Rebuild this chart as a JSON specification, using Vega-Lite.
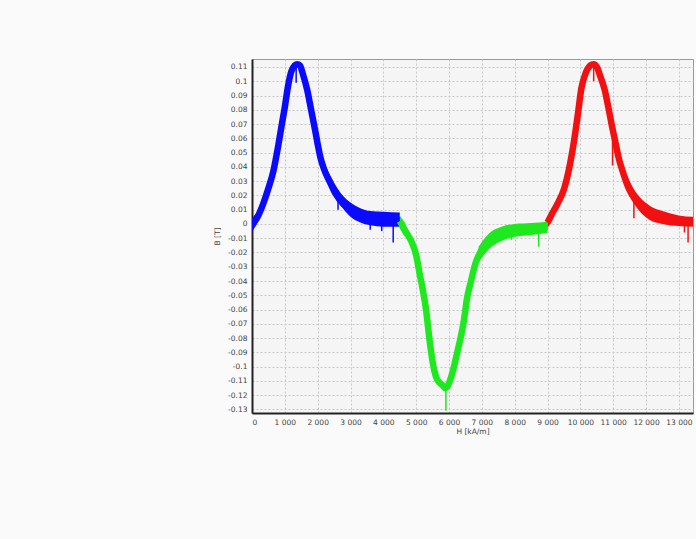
{
  "$schema": "https://vega.github.io/schema/vega-lite/v6.json",
  "width": 441,
  "height": 354,
  "autosize": {"type": "none"},
  "padding": {"left": 252, "top": 59, "right": 3, "bottom": 126},
  "background": "#fafafa",
  "config": {
    "locale": {"number": {"decimal": ".", "thousands": " ", "grouping": [3], "currency": ["", ""], "minus": "-"}},
    "font": "DejaVu Sans",
    "view": {"fill": "#f5f5f5", "stroke": "#999999", "strokeWidth": 1},
    "axis": {
      "labelFontSize": 7.5,
      "labelColor": "#444444",
      "labelOverlap": false,
      "titleFontSize": 7.5,
      "titleFontWeight": "normal",
      "titleColor": "#444444",
      "domainColor": "#222222",
      "domainWidth": 2,
      "ticks": false,
      "gridColor": "#c8c8c8",
      "gridDash": [2, 2],
      "gridWidth": 1,
      "labelPadding": 5
    }
  },
  "datasets": {
    "curve": [
      {"s": "1", "x": 0, "b": -0.0007},
      {"s": "1", "x": 150, "b": 0.004},
      {"s": "1", "x": 340, "b": 0.014},
      {"s": "1", "x": 500, "b": 0.025},
      {"s": "1", "x": 650, "b": 0.037},
      {"s": "1", "x": 800, "b": 0.055},
      {"s": "1", "x": 910, "b": 0.070},
      {"s": "1", "x": 1000, "b": 0.082},
      {"s": "1", "x": 1100, "b": 0.097},
      {"s": "1", "x": 1200, "b": 0.107},
      {"s": "1", "x": 1300, "b": 0.111},
      {"s": "1", "x": 1380, "b": 0.112},
      {"s": "1", "x": 1460, "b": 0.111},
      {"s": "1", "x": 1550, "b": 0.105},
      {"s": "1", "x": 1680, "b": 0.094},
      {"s": "1", "x": 1800, "b": 0.080},
      {"s": "1", "x": 1920, "b": 0.066},
      {"s": "1", "x": 2000, "b": 0.056},
      {"s": "1", "x": 2080, "b": 0.047},
      {"s": "1", "x": 2200, "b": 0.038},
      {"s": "1", "x": 2380, "b": 0.029},
      {"s": "1", "x": 2550, "b": 0.021},
      {"s": "1", "x": 2780, "b": 0.014},
      {"s": "1", "x": 3000, "b": 0.010},
      {"s": "1", "x": 3300, "b": 0.006},
      {"s": "1", "x": 3600, "b": 0.004},
      {"s": "1", "x": 4000, "b": 0.003},
      {"s": "1", "x": 4500, "b": 0.003},
      {"s": "2", "x": 4500, "b": 0.002},
      {"s": "2", "x": 4600, "b": -0.002},
      {"s": "2", "x": 4700, "b": -0.006},
      {"s": "2", "x": 4850, "b": -0.012},
      {"s": "2", "x": 5000, "b": -0.022},
      {"s": "2", "x": 5114, "b": -0.036},
      {"s": "2", "x": 5200, "b": -0.046},
      {"s": "2", "x": 5300, "b": -0.060},
      {"s": "2", "x": 5400, "b": -0.080},
      {"s": "2", "x": 5510, "b": -0.098},
      {"s": "2", "x": 5600, "b": -0.107},
      {"s": "2", "x": 5700, "b": -0.111},
      {"s": "2", "x": 5800, "b": -0.113},
      {"s": "2", "x": 5880, "b": -0.115},
      {"s": "2", "x": 5950, "b": -0.114},
      {"s": "2", "x": 6055, "b": -0.108},
      {"s": "2", "x": 6150, "b": -0.100},
      {"s": "2", "x": 6250, "b": -0.090},
      {"s": "2", "x": 6350, "b": -0.080},
      {"s": "2", "x": 6450, "b": -0.068},
      {"s": "2", "x": 6550, "b": -0.052},
      {"s": "2", "x": 6670, "b": -0.040},
      {"s": "2", "x": 6800, "b": -0.028},
      {"s": "2", "x": 6970, "b": -0.019},
      {"s": "2", "x": 7200, "b": -0.012},
      {"s": "2", "x": 7580, "b": -0.007},
      {"s": "2", "x": 8000, "b": -0.005},
      {"s": "2", "x": 8500, "b": -0.0035},
      {"s": "2", "x": 9000, "b": -0.002},
      {"s": "3", "x": 9000, "b": 0.001},
      {"s": "3", "x": 9110, "b": 0.006},
      {"s": "3", "x": 9300, "b": 0.014},
      {"s": "3", "x": 9510, "b": 0.025},
      {"s": "3", "x": 9650, "b": 0.038},
      {"s": "3", "x": 9820, "b": 0.060},
      {"s": "3", "x": 9930, "b": 0.078},
      {"s": "3", "x": 10030, "b": 0.095},
      {"s": "3", "x": 10150, "b": 0.105},
      {"s": "3", "x": 10300, "b": 0.111},
      {"s": "3", "x": 10400, "b": 0.112},
      {"s": "3", "x": 10500, "b": 0.110},
      {"s": "3", "x": 10600, "b": 0.104},
      {"s": "3", "x": 10740, "b": 0.094},
      {"s": "3", "x": 10850, "b": 0.082},
      {"s": "3", "x": 10950, "b": 0.070},
      {"s": "3", "x": 11060, "b": 0.058},
      {"s": "3", "x": 11160, "b": 0.047},
      {"s": "3", "x": 11300, "b": 0.036},
      {"s": "3", "x": 11470, "b": 0.025},
      {"s": "3", "x": 11700, "b": 0.016},
      {"s": "3", "x": 11960, "b": 0.010},
      {"s": "3", "x": 12300, "b": 0.006},
      {"s": "3", "x": 12690, "b": 0.004},
      {"s": "3", "x": 13000, "b": 0.002},
      {"s": "3", "x": 13430, "b": 0.0015}
    ],
    "band": [
      {"s": "1", "g": "1a", "x": 0, "b": 0.004, "lo": -0.0056},
      {"s": "1", "g": "1a", "x": 150, "b": 0.008, "lo": 0.000},
      {"s": "1", "g": "1b", "x": 2200, "b": 0.043, "lo": 0.033},
      {"s": "1", "g": "1b", "x": 2400, "b": 0.033, "lo": 0.024},
      {"s": "1", "g": "1b", "x": 2600, "b": 0.025, "lo": 0.016},
      {"s": "1", "g": "1b", "x": 2800, "b": 0.019, "lo": 0.010},
      {"s": "1", "g": "1b", "x": 3000, "b": 0.015, "lo": 0.005},
      {"s": "1", "g": "1b", "x": 3300, "b": 0.011, "lo": 0.001},
      {"s": "1", "g": "1b", "x": 3600, "b": 0.009, "lo": -0.001},
      {"s": "1", "g": "1b", "x": 4000, "b": 0.0085, "lo": -0.002},
      {"s": "1", "g": "1b", "x": 4500, "b": 0.008, "lo": -0.002},
      {"s": "2", "g": "2a", "x": 4500, "b": 0.006, "lo": -0.003},
      {"s": "2", "g": "2a", "x": 4650, "b": 0.001, "lo": -0.009},
      {"s": "2", "g": "2b", "x": 6900, "b": -0.016, "lo": -0.027},
      {"s": "2", "g": "2b", "x": 7200, "b": -0.007, "lo": -0.018},
      {"s": "2", "g": "2b", "x": 7600, "b": -0.002, "lo": -0.012},
      {"s": "2", "g": "2b", "x": 8000, "b": 0.000, "lo": -0.009},
      {"s": "2", "g": "2b", "x": 8500, "b": 0.0007, "lo": -0.0077},
      {"s": "2", "g": "2b", "x": 9000, "b": 0.0016, "lo": -0.0063},
      {"s": "3", "g": "3a", "x": 9000, "b": 0.005, "lo": -0.003},
      {"s": "3", "g": "3a", "x": 9150, "b": 0.012, "lo": 0.003},
      {"s": "3", "g": "3b", "x": 11300, "b": 0.041, "lo": 0.031},
      {"s": "3", "g": "3b", "x": 11500, "b": 0.030, "lo": 0.020},
      {"s": "3", "g": "3b", "x": 11800, "b": 0.019, "lo": 0.009},
      {"s": "3", "g": "3b", "x": 12100, "b": 0.013, "lo": 0.003},
      {"s": "3", "g": "3b", "x": 12500, "b": 0.009, "lo": 0.000},
      {"s": "3", "g": "3b", "x": 13000, "b": 0.006, "lo": -0.0015},
      {"s": "3", "g": "3b", "x": 13430, "b": 0.005, "lo": -0.002}
    ],
    "spikes": [
      {"s": "1", "x": 1345, "b": 0.110, "lo": 0.099},
      {"s": "1", "x": 2620, "b": 0.018, "lo": 0.010},
      {"s": "1", "x": 3600, "b": 0.001, "lo": -0.004},
      {"s": "1", "x": 3950, "b": 0.000, "lo": -0.005},
      {"s": "1", "x": 4300, "b": 0.000, "lo": -0.013},
      {"s": "2", "x": 5905, "b": -0.113, "lo": -0.131},
      {"s": "2", "x": 7900, "b": -0.008, "lo": -0.011},
      {"s": "2", "x": 8730, "b": -0.005, "lo": -0.016},
      {"s": "3", "x": 10405, "b": 0.110, "lo": 0.100},
      {"s": "3", "x": 10980, "b": 0.060, "lo": 0.041},
      {"s": "3", "x": 11630, "b": 0.016, "lo": 0.004},
      {"s": "3", "x": 13170, "b": 0.000, "lo": -0.006},
      {"s": "3", "x": 13280, "b": 0.000, "lo": -0.013}
    ]
  },
  "encoding": {
    "x": {
      "field": "x", "type": "quantitative", "title": "H [kA/m]",
      "scale": {"domain": [0, 13430], "nice": false, "zero": false},
      "axis": {"values": [0,1000,2000,3000,4000,5000,6000,7000,8000,9000,10000,11000,12000,13000], "format": ",.0f", "titlePadding": 2}
    },
    "y": {
      "field": "b", "type": "quantitative", "title": "B [T]",
      "scale": {"domain": [-0.1325, 0.1156], "nice": false, "zero": false},
      "axis": {"values": [0.11,0.1,0.09,0.08,0.07,0.06,0.05,0.04,0.03,0.02,0.01,0,-0.01,-0.02,-0.03,-0.04,-0.05,-0.06,-0.07,-0.08,-0.09,-0.1,-0.11,-0.12,-0.13], "format": ".2~f", "titlePadding": 6}
    },
    "color": {
      "field": "s", "type": "nominal", "legend": null,
      "scale": {"domain": ["1", "2", "3"], "range": ["#0a0aff", "#1ee81e", "#f21010"]}
    }
  },
  "layer": [
    {
      "data": {"name": "band"},
      "mark": {"type": "area", "opacity": 1, "interpolate": "monotone"},
      "encoding": {
        "y2": {"field": "lo"},
        "detail": {"field": "g", "type": "nominal"}
      }
    },
    {
      "data": {"name": "curve"},
      "mark": {"type": "line", "strokeWidth": 6.5, "strokeJoin": "round", "strokeCap": "butt", "interpolate": "monotone", "clip": true}
    },
    {
      "data": {"name": "spikes"},
      "mark": {"type": "rule", "strokeWidth": 1.5},
      "encoding": {"y2": {"field": "lo"}}
    }
  ]
}
